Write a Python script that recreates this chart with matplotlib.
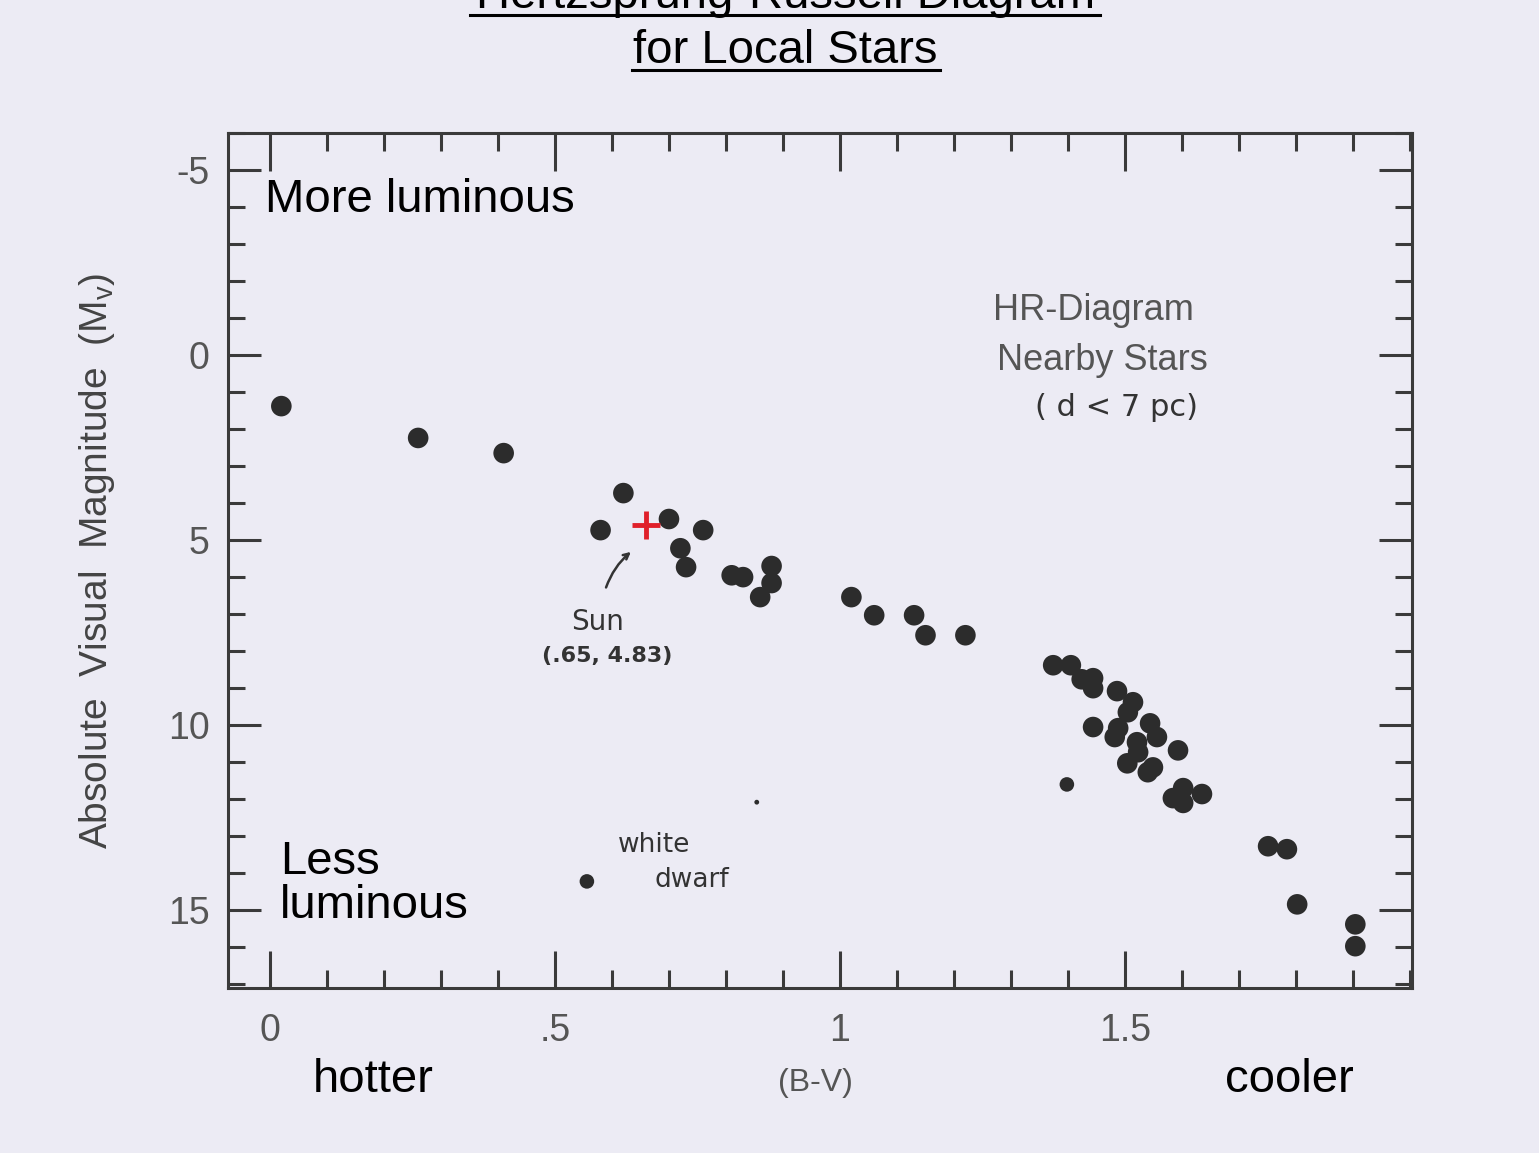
import matplotlib
matplotlib.use("Agg")
import matplotlib.pyplot as plt
from matplotlib.lines import Line2D
from matplotlib.ticker import MultipleLocator

plt.rcParams['font.family'] = ['Liberation Sans', 'DejaVu Sans']

# star colours (B-V) and absolute magnitudes
bv = [0.02, 0.26, 0.41, 0.58, 0.62, 0.70, 0.72, 0.73, 0.76, 0.81, 0.83,
      0.88, 0.88, 0.86, 1.02, 1.06, 1.13, 1.15, 1.22,
      1.374, 1.405, 1.424, 1.444, 1.444, 1.486, 1.514, 1.505, 1.444, 1.544,
      1.556, 1.488, 1.482, 1.521, 1.523, 1.593, 1.504, 1.549, 1.540,
      1.584, 1.602, 1.602, 1.635, 1.751, 1.784, 1.802, 1.904, 1.904]
mv = [1.38, 2.24, 2.65, 4.73, 3.73, 4.43, 5.22, 5.73, 4.73, 5.95, 6.00,
      5.70, 6.16, 6.54, 6.54, 7.03, 7.03, 7.57, 7.57,
      8.38, 8.38, 8.76, 8.73, 9.00, 9.08, 9.38, 9.65, 10.05, 9.95,
      10.32, 10.08, 10.32, 10.46, 10.73, 10.68, 11.03, 11.14, 11.27,
      11.97, 11.70, 12.10, 11.86, 13.27, 13.35, 14.84, 15.38, 15.97]

# smaller dots (white dwarf, odd star, speck)
small_bv = [0.556, 1.398]
small_mv = [14.22, 11.60]
speck_bv = [0.854]
speck_mv = [12.08]

sun_bv = 0.66
sun_mv = 4.6

bg = '#ecebf4'
ink = '#3a3a3a'
gray = '#555555'
hand = '#333333'

fig = plt.figure(figsize=(15.39, 11.53), dpi=100, facecolor=bg)
ax = fig.add_axes([0.1481, 0.1431, 0.7694, 0.7416])
ax.set_facecolor(bg)

ax.scatter(bv, mv, s=220, c='#2c2c2c', edgecolors='none', zorder=3)
ax.scatter(small_bv, small_mv, s=110, c='#2c2c2c', edgecolors='none', zorder=3)
ax.scatter(speck_bv, speck_mv, s=12, c='#2c2c2c', edgecolors='none', zorder=3)
ax.plot(sun_bv, sun_mv, marker='+', color='#e0202a', markersize=20,
        markeredgewidth=3.5, zorder=4)

ax.set_xlim(-0.0737, 2.0035)
ax.set_ylim(17.1, -6.0)

ax.xaxis.set_minor_locator(MultipleLocator(0.1))
ax.yaxis.set_minor_locator(MultipleLocator(1))
ax.set_xticks([0, 0.5, 1, 1.5])
ax.set_xticklabels(['0', '.5', '1', '1.5'])
ax.set_yticks([-5, 0, 5, 10, 15])
ax.set_yticklabels(['-5', '0', '5', '10', '15'])

ax.tick_params(which='both', direction='in', top=True, right=True,
               color=ink, width=2.2, labelcolor=gray, labelsize=27)
ax.tick_params(axis='x', which='major', length=27, pad=18)
ax.tick_params(axis='x', which='minor', length=13)
ax.tick_params(axis='y', which='major', length=24, pad=13)
ax.tick_params(axis='y', which='minor', length=12)
for s in ax.spines.values():
    s.set_linewidth(2.2)
    s.set_color(ink)

# annotations inside the plot
ax.text(-0.009, -4.19, 'More luminous', fontsize=34, va='center', ha='left')
ax.text(0.0175, 14.3, 'Less\nluminous', fontsize=34, va='center', ha='left',
        linespacing=1.0)
ax.text(1.268, -1.19, 'HR-Diagram', fontsize=26, color=gray, va='center')
ax.text(1.275, 0.16, 'Nearby Stars', fontsize=26, color=gray, va='center')
ax.text(1.342, 1.43, '( d < 7 pc)', fontsize=22, color=hand,
        va='center', family='DejaVu Sans')
ax.text(0.575, 7.22, 'Sun', fontsize=20, color=hand, ha='center',
        va='center', family='DejaVu Sans')
ax.text(0.591, 8.14, '(.65, 4.83)', fontsize=16, color=hand,
        ha='center', va='center', family='DejaVu Sans', weight='bold')
ax.annotate('', xy=(0.637, 5.27), xytext=(0.588, 6.35),
            arrowprops=dict(arrowstyle='->', color=hand, lw=1.8,
                            connectionstyle='arc3,rad=-0.15'))
ax.text(0.674, 13.24, 'white', fontsize=19, color=hand, ha='center',
        va='center', family='DejaVu Sans')
ax.text(0.740, 14.19, 'dwarf', fontsize=19, color=hand, ha='center',
        va='center', family='DejaVu Sans')

# title (first line cut off by the top edge, as in the original), underlined
fig.text(0.5105, 1 - 8 / 1153, 'Hertzsprung-Russell Diagram', fontsize=34,
         ha='center', va='baseline')
fig.text(0.5105, 1 - 63 / 1153, 'for Local Stars', fontsize=34,
         ha='center', va='baseline')
fig.add_artist(Line2D([470 / 1539, 1100 / 1539], [1 - 15 / 1153] * 2,
                      color='black', lw=2.2))
fig.add_artist(Line2D([632 / 1539, 940 / 1539], [1 - 70 / 1153] * 2,
                      color='black', lw=2.2))

# axis labels
fig.text(97 / 1539, 1 - 561 / 1153,
         r'Absolute  Visual  Magnitude  (M$_{\mathregular{v}}$)',
         fontsize=28, rotation=90, ha='center', va='center', color='#444444')
fig.text(815 / 1539, 1 - 1083 / 1153, '(B-V)', fontsize=23, color=gray,
         ha='center', va='center')
fig.text(373 / 1539, 1 - 1080 / 1153, 'hotter', fontsize=34,
         ha='center', va='center')
fig.text(1289 / 1539, 1 - 1080 / 1153, 'cooler', fontsize=34,
         ha='center', va='center')

fig.savefig('out.png', dpi=100, facecolor=bg)
